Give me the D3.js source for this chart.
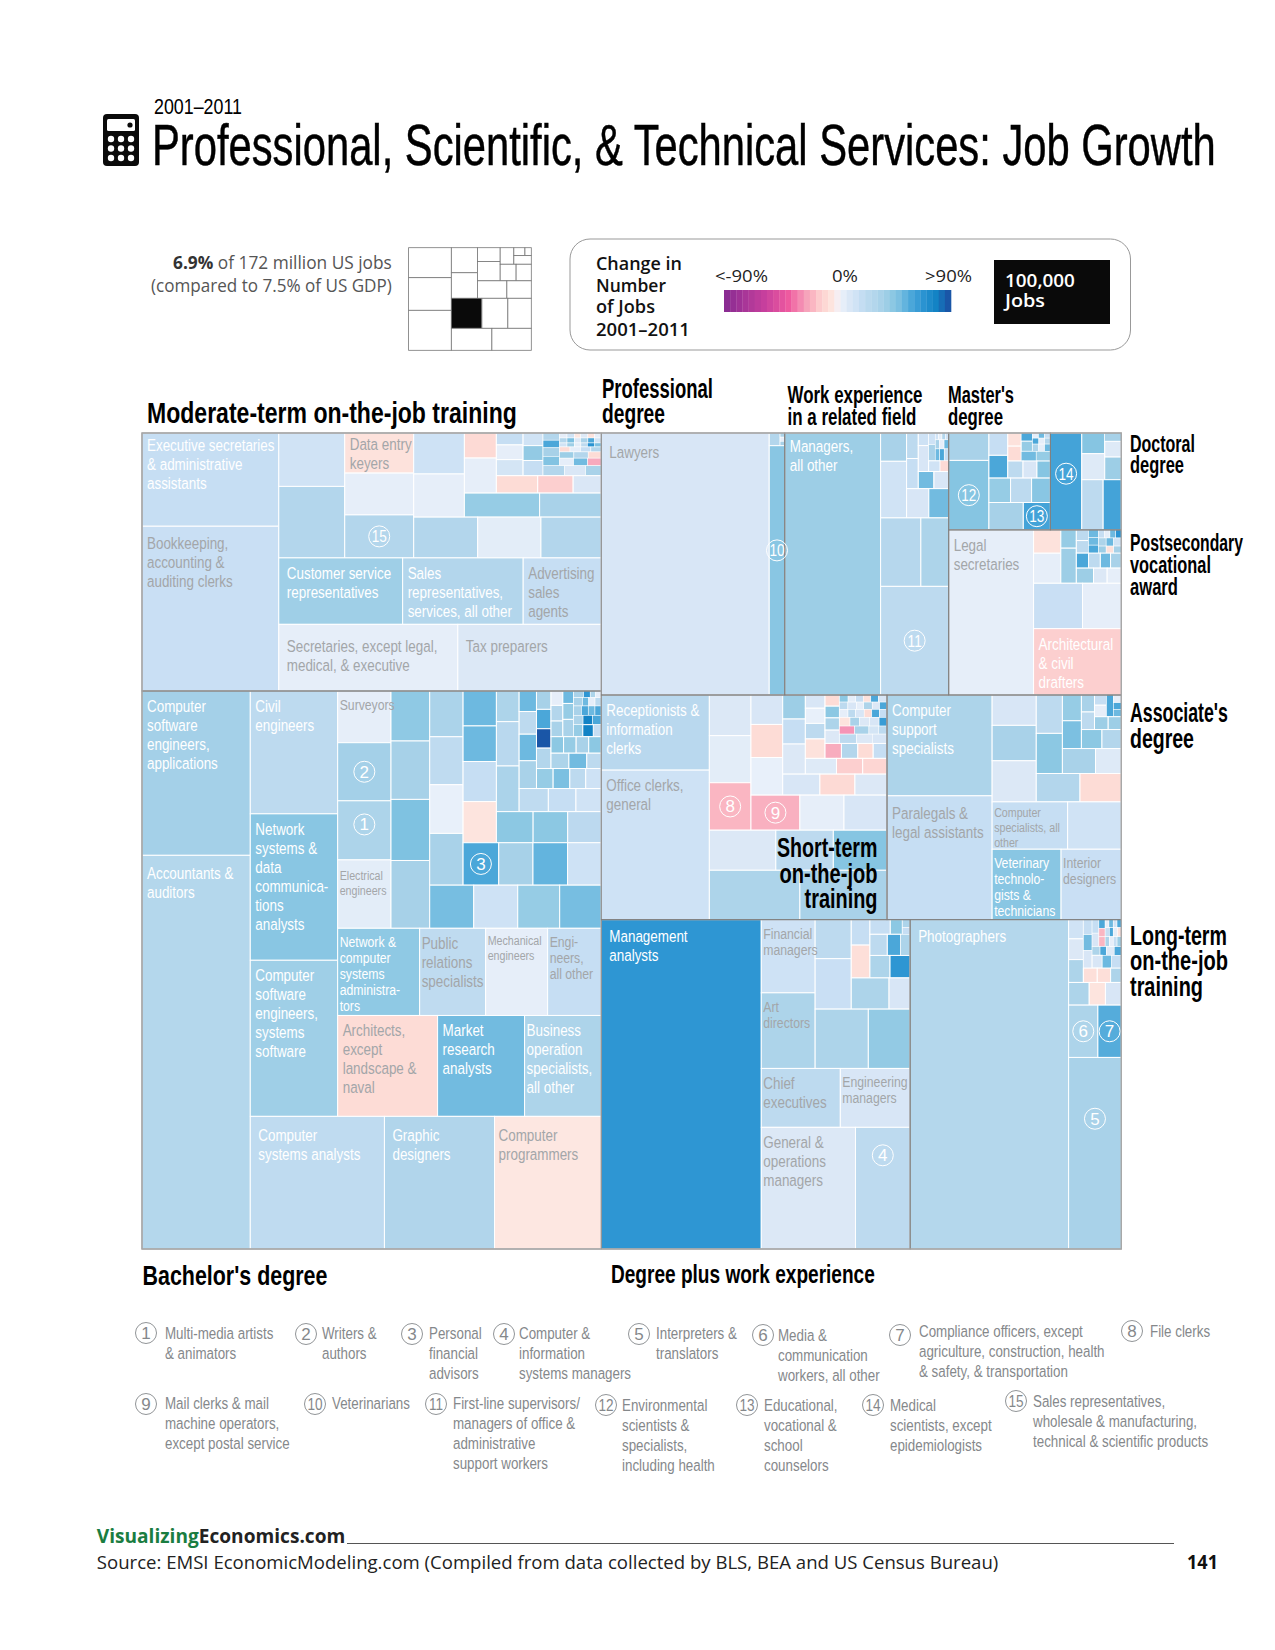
<!DOCTYPE html>
<html>
<head>
<meta charset="utf-8">
<script src="https://cdn.jsdelivr.net/npm/d3@7"></script>
<style>
  body { margin: 0; background: #fff; }
  svg { display: block; }
  text { font-family: "Liberation Sans Narrow", "Liberation Sans", sans-serif; }
  .plain { font-family: "Open Sans", "Liberation Sans", sans-serif; }
</style>
</head>
<body>
<svg id="chart" width="1275" height="1650"></svg>
<script>
// C = cells side by side, R = cells stacked. A leaf is [thousand jobs, % change, label or key number]
const C = (...children) => ({ tile: "dice", children });
const R = (...children) => ({ tile: "slice", children });

const moderateTerm = C(
  R([172, 19, "Executive secretaries\n& administrative\nassistants"], [304, 18, "Bookkeeping,\naccounting &\nauditing clerks"]),
  R(
    C(
      R([47.5, 15], [63.6, 30]),
      R([37.3, -6, "Data entry\nkeyers"], [38.9, 5], [40, 30, 15]),
      R(
        C(
          R([28, 16], [29.5, 5]),
          R(
            C(
              R([10.8, -9], [15.1, 5]),
              R(
                C(
                  R([4.3, 19], [5.3, 5], [5.8, 13]),
                  R([3.4, 15], [4, 43], [4.1, 19]),
                  R(
                    C(
                      R([1.6, 30], [1.7, 60], [1.9, 36], [2.1, 48]),
                      R(
                        C([.5, 5], [.5, 15], [.4, -4], [.5, 8], [.45, -6], [.45, 5]),
                        C([.5, 30], [.5, 50], [.4, 9], [.5, 35], [.45, 60], [.45, 15]),
                        C([.4, 15], [.4, 40], [.35, 6], [.35, 23], [.4, 70], [.35, 50]),
                        C([.7, -8], [.7, 5], [.7, 19], [.7, 30]),
                        C([1.2, 40], [1.2, 30], [1.1, -8]),
                        C([1.45, 5], [1.45, 52], [1.4, -24])
                      )
                    ),
                    C([2.9, 30], [2.8, 10], [2.1, 35])
                  )
                ),
                C([9.7, -8], [8.3, -14], [6.6, 10])
              )
            ),
            C([24.4, 42], [20, 35])
          )
        ),
        C([35.2, 30], [34.8, 6], [33.2, 30])
      )
    ),
    C([111, 39, "Customer service\nrepresentatives"], [108, 30, "Sales\nrepresentatives,\nservices, all other"], [70, 19, "Advertising\nsales\nagents"]),
    C([161, 5, "Secretaries, except legal,\nmedical, &  executive"], [129, 9, "Tax preparers"])
  )
);

const bachelors = C(
  R([240, 37, "Computer\nsoftware\nengineers,\napplications"], [575, 29, "Accountants &\nauditors"]),
  R(
    C(
      R([144.8, 23, "Civil\nengineers"], [172.6, 46, "Network\nsystems &\ndata\ncommunica-\ntions\nanalysts"], [184, 39, "Computer\nsoftware\nengineers,\nsystems\nsoftware"]),
      R(
        C(
          R([37.2, 5, "Surveyors"], [41.8, 37, 2], [42.5, 33, 1], [49.2, 6, "Electrical\nengineers"]),
          C(
            R([26.1, 44], [30.5, 36], [31.9, 49], [35.4, 36]),
            R(
              C(
                R([20.6, 34], [21.6, 22], [21.9, 4], [23.3, 35]),
                R(
                  C(
                    R([15.7, 53], [16, 53], [18, 19], [18.5, -5]),
                    R(
                      C(
                        R([9.4, 33], [13.6, 26], [14, 34]),
                        R(
                          C(
                            R([4.8, 53], [5.3, 23], [6.2, 53], [6.5, 35]),
                            R(
                              C(
                                R([3.6, 36], [3.8, 60], [3.8, 90], [4, 30]),
                                R(
                                  C(
                                    R([2.3, 5], [2.5, 30], [2.5, 35]),
                                    R([1.8, 53], [2.3, 42], [2.5, 35]),
                                    R(
                                      C([.9, 35], [.6, 68], [.5, 33], [.5, 5]),
                                      C([1, 35], [.7, 53], [.7, 5], [.7, 23]),
                                      C([1, 35], [.85, 60], [.85, 53], [.8, 60]),
                                      C([1.2, 33], [1.2, 80], [1.1, 60]),
                                      C([1.5, 42], [1.7, 80], [1.3, 19])
                                    )
                                  ),
                                  C([2.8, 45], [2.8, 42], [2.8, 35], [2.8, 45]),
                                  C([3.7, 33], [3.7, 52], [3, 23])
                                )
                              ),
                              C([4.5, 42], [4.5, 50], [4.3, 23], [4.2, 16])
                            )
                          ),
                          C([9.1, 22], [8.6, 19], [7.9, 15])
                        )
                      ),
                      C([15.4, 45], [14.5, 45], [14.1, 24])
                    )
                  ),
                  C([20.4, 60, 3], [19.6, 36], [19.8, 55], [19.3, 16])
                )
              ),
              C([25.6, 51], [25.6, 16], [24.4, 42], [24.2, 51])
            )
          )
        ),
        C([96.4, 44, "Network &\ncomputer\nsystems\nadministra-\ntors"], [77.6, 22, "Public\nrelations\nspecialists"], [72.9, 5, "Mechanical\nengineers"], [63.1, 19, "Engi-\nneers,\nall other"]),
        C([136, -8, "Architects,\nexcept\nlandscape &\nnaval"], [118.4, 52, "Market\nresearch\nanalysts"], [104.4, 33, "Business\noperation\nspecialists,\nall other"])
      )
    ),
    C([240, 22, "Computer\nsystems analysts"], [197, 31, "Graphic\ndesigners"], [191, -4, "Computer\nprogrammers"])
  )
);

const professional = C(
  [574.6, 11, "Lawyers"],
  R(C([1.8, 30], R([.25, 33], [.25, 5], [.27, 36])), [50.5, 46, 10])
);

const workExperience = C(
  [328, 40, "Managers,\nall other"],
  R(
    C(
      R([9.6, 35], [19.2, 15]),
      R(
        C(
          R([3.9, 23], [4.6, 19]),
          R(
            C(
              R([1.7, 16], [3.5, 11]),
              R(
                C(
                  R([1, 16], [1.4, 35]),
                  R(
                    C([.3, 15], [.3, 5], [.3, 30], [.3, 16]),
                    C([.5, 35], [.55, 5], [.55, 53]),
                    C([.7, 53], [.7, 60], [.7, 19])
                  )
                ),
                C([1.6, 15], [1.2, -9])
              )
            ),
            C([3.5, 52], [3.3, 11])
          )
        ),
        C([8.5, 11], [7.6, 52])
      )
    ),
    C([36, 28], [24.9, 33]),
    [96.6, 23, 11]
  )
);

const masters = C(
  R([14.4, 35], [36.5, 47, 12]),
  R(
    C(
      R([5.5, 19], [5.6, 60]),
      R(
        C(
          R([2.3, -6], [2.6, -8]),
          R(
            C(
              R([1.2, 60], [1.5, 42]),
              R(
                C([.4, 5], [.4, 53], [.4, 19]),
                C([.5, 60], [.45, 5], [.45, 30]),
                C([.6, 33], [.55, 5], [.55, 53])
              )
            ),
            C([1.9, 52], [1.8, 42])
          )
        ),
        C([3.4, 23], [3.1, 11], [3, 47])
      )
    ),
    C([6.9, 42], [6.7, 23], [6, 46]),
    C([12.3, 36], [9.7, 62, 13])
  )
);

const doctoral = C(
  [39.7, 62, 14],
  R(
    C(R([6.2, 47], [7.8, 8]), R([1.8, 36], [3.4, 8], [4.9, 40])),
    C([14, 23], [11.9, 62])
  )
);

const postsecondary = C(
  [183, 5, "Legal\nsecretaries"],
  R(
    C(
      R([8.3, -6], [10.7, 5]),
      R(
        C(
          R([3.7, 42], [7.1, 40]),
          R(
            C(
              R([1.7, 23], [2, 23]),
              R([1, 53], [1, 53], [1.05, 60]),
              R(
                C([.6, 19], [.6, 5], [.6, 53], [.6, 70]),
                C([.8, 33], [.8, 53], [.8, 15]),
                C([.7, 40], [.7, -6], [.7, 36])
              )
            ),
            C([2.4, 60], [2.3, 23], [2, 53], [2.1, 35]),
            C([3.4, 40], [2.7, 9], [2.8, 5])
          )
        )
      )
    ),
    C([29, 18], [23, 5]),
    [76, -14, "Architectural\n& civil\ndrafters"]
  )
);

const shortTerm = C(
  R([106, 26, "Receptionists &\ninformation\nclerks"], [211, 16, "Office clerks,\ngeneral"]),
  R(
    C(
      R([22.1, 9], [25.6, 6], [25.8, -20, 8]),
      R(
        C(
          R([12.2, 11], [13.7, -8], [15.6, 4]),
          R(
            C(
              R([7.1, 40], [7.4, 19], [8.9, 9]),
              R(
                R(
                  C(
                    R([3.4, 11], [3.9, 4], [4, 23], [5, -6]),
                    R(
                      C(
                        R([2.1, -8], [2.2, 45], [2.3, 33], [2.5, 9]),
                        R(
                          C([.8, 45], [.7, 5], [.7, 19], [.7, -6], [.7, 60], [.8, 11]),
                          C([.8, 23], [.8, 11], [.7, 5], [.8, 33], [.7, 9], [.7, 60]),
                          C([.9, 5], [.8, 23], [.9, 11], [.8, -8], [.8, 60], [.8, 19]),
                          C([1.2, -5], [1.1, 35], [1.1, 9], [1.1, 11], [.9, 65]),
                          C([1.6, -28], [1.5, 35], [1, 13], [.9, 23]),
                          C([2.1, 23], [1.9, 9], [1.8, 11])
                        )
                      ),
                      C([3.2, -23], [3.2, 30], [3, -8], [2.7, 19])
                    )
                  )
                ),
                C([6.4, 8], [5.4, -14], [5, -11])
              )
            ),
            C([10.2, 11], [9.6, -9], [8.8, 9])
          )
        ),
        C([22.4, -22, 9], [20.2, 5], [19.7, 11])
      )
    ),
    C([34.8, 9], [30.1, 23], [28.1, 47]),
    C([58.4, 33], [56.2, 35])
  )
);

const associate = C(
  R([138.4, 33, "Computer\nsupport\nspecialists"], [170, 19, "Paralegals &\nlegal assistants"]),
  R(
    C(
      R([17.5, 11], [20.4, 35], [23.7, 9]),
      R(
        C(
          R([13.1, 23], [13.7, 45]),
          R(
            C(
              R([6.4, 42], [6.9, 50]),
              R(
                C(
                  R([2.9, 35], [3, 23]),
                  R(
                    C(
                      R([1.6, 19], [1.8, 5]),
                      C([1.95, 60], R([.8, 5], [.7, 60], [.75, 53]))
                    ),
                    C([2.3, 40], [2.2, 40])
                  )
                ),
                C([5.1, 45], [4.8, 30])
              )
            ),
            C([10.8, 35], [8.4, 8])
          )
        ),
        C([16.2, 30], [15.3, -8])
      )
    ),
    C([46.7, 19, "Computer\nspecialists, all\nother"], [33.2, 15]),
    C([63.4, 46, "Veterinary\ntechnolo-\ngists &\ntechnicians"], [55.4, 18, "Interior\ndesigners"])
  )
);

const degreePlus = C(
  [688, 68, "Management\nanalysts"],
  R(
    C(
      R([51.5, 16, "Financial\nmanagers"], [53.2, 33, "Art\ndirectors"]),
      R(
        C(
          R([18.4, 23], [23.8, 18]),
          R(
            C(
              R([6.2, 19], [8, -7]),
              R(
                C([3.9, 19], [2.3, 45], R([.8, 33], [.7, 19])),
                C([4.8, 23], [3.7, 60], [2.6, 33]),
                C([5.9, 33], [5.9, 68])
              )
            ),
            C([15.4, 33], [8.6, 11])
          )
        ),
        C([41.2, 33], [32.4, 43])
      )
    ),
    C([60.8, 23, "Chief\nexecutives"], [53.7, 11, "Engineering\nmanagers"]),
    C([149.7, 9, "General &\noperations\nmanagers"], [86.9, 23, 4])
  )
);

const longTerm = C(
  [681.6, 29, "Photographers"],
  R(
    C(
      R([3.7, 15], [4, 9], [4.4, 33]),
      R(
        C(
          R([1.7, 19], [1.8, 52], [2, 11]),
          R(
            C(
              R([1.2, 19], [1.2, 11]),
              R([.7, 60], [.7, -20], [.8, -20]),
              R(
                C([.4, 5], [.45, 53], [.4, 15], [.45, 60]),
                C([.5, 19], [.45, 60], [.5, 5], [.45, -6]),
                C([.55, 33], [.5, 5], [.5, 19], [.55, 40])
              )
            ),
            C([.9, 33], [.7, 60], [.9, 8], [.8, 60]),
            C([1.7, 11], [1.6, 53], [1.6, 19])
          )
        ),
        C([2.6, -7], [2.5, -7], [2, 33])
      )
    ),
    C([6.1, 33], [4.8, -5], [4.7, 11]),
    C([20, 33, 6], [16, 58, 7]),
    [131.8, 35, 5]
  )
);

const groups = [moderateTerm, bachelors, professional, workExperience, masters, doctoral,
  postsecondary, shortTerm, associate, degreePlus, longTerm];

// shares of all US jobs, % (small square picture)
const industryShares = C(
  R([10.2], [11.1], [13.6]),
  R(
    C(
      R([5.2], [5.3]),
      R(
        C(
          R([2.5], [3.5]),
          R(
            C(
              [1.8],
              R(C([.7], [.4]), [1.2])
            ),
            C([2.1], [2])
          )
        ),
        C([4.1], [3.4])
      )
    ),
    C([7.3, 1], [6.2], [5.6]),
    C([7.1], [6.9])
  )
);

const legendChanges = d3.range(-90, 91, 5);
const legendTicks = ["<-90%", "0%", ">90%"];

const keyLabels = [
  ["Multi-media artists", "& animators"],
  ["Writers &", "authors"],
  ["Personal", "financial", "advisors"],
  ["Computer &", "information", "systems managers"],
  ["Interpreters &", "translators"],
  ["Media &", "communication", "workers, all other"],
  ["Compliance officers, except", "agriculture, construction, health", "& safety, &  transportation"],
  ["File clerks"],
  ["Mail clerks & mail", "machine operators,", "except postal service"],
  ["Veterinarians"],
  ["First-line supervisors/", "managers of office &", "administrative", "support workers"],
  ["Environmental", "scientists &", "specialists,", "including health"],
  ["Educational,", "vocational &", "school", "counselors"],
  ["Medical", "scientists, except", "epidemiologists"],
  ["Sales representatives,", "wholesale & manufacturing,", "technical & scientific products"]
];

// --- drawing ---
const whiteLabels = ["Executive", "Customer", "Sales", "Computer\nsoftware", "Civil", "Network", "Accountants",
  "Market", "Business", "Computer\nsystems", "Graphic", "Managers", "Architectural", "Receptionists",
  "Computer\nsupport", "Veterinary", "Management", "Photographers"];
const insetLabels = ["Customer", "Secretaries", "Tax", "Lawyers", "Management", "Photographers", "Computer\nsystems", "Graphic", "Computer\nprogrammers"];
const tightLabels = ["Surveyors", "Financial", "Art", "Chief", "General", "Mechanical", "Engi-", "Public", "Business",
  "Network &", "Veterinary", "Interior", "Engineering", "Electrical", "Computer\nspecialists"];
const smallLabels = ["Surveyors", "Network &", "Engi-", "Veterinary", "Interior", "Financial", "Art", "Engineering"];
const tinyLabels = ["Electrical", "Mechanical", "Computer\nspecialists"];
const labelDrop = { "Executive": 18, "Data": 17, "Secretaries": 28, "Tax": 28, "Managers": 19, "Computer\nspecialists": 15,
  "Mechanical": 17, "Electrical": 20, "Customer": 21, "Management": 22, "Photographers": 22, "Bookkeeping": 23,
  "Accountants": 24, "Paralegals": 23 };
const starts = (s, list) => list.some(k => s.startsWith(k));
const greyText = "#a3a6a9", labelSqueeze = 0.79, keySqueeze = 0.81;

const svg = d3.select("#chart");

const changeColor = d3.scaleLinear()
  .domain([-90, -60, -40, -24, -20, -14, -8, -4, 0, 4, 9, 15, 19, 23, 30, 35, 40, 45, 50, 53, 60, 68, 80, 90])
  .range(["#8b2c92", "#c63f9d", "#ee5a9f", "#f7a9bd", "#fab6c2", "#fccfcf", "#fddcd6", "#fde7e1", "#f6eef2", "#e8f0fa",
    "#dce8f6", "#d0e3f5", "#c6def3", "#bddaef", "#b3d6ec", "#a9d2e9", "#9dcee6", "#8cc8e3", "#7cc0e1", "#6db9e0",
    "#4ba7d9", "#2e96d3", "#1383c5", "#1a56a7"])
  .clamp(true);

const splitTile = (node, x0, y0, x1, y1) =>
  (node.data.tile === "slice" ? d3.treemapSlice : d3.treemapDice)(node, x0, y0, x1, y1);

function layout(tree, w, h) {
  const root = d3.hierarchy(tree, d => d.children).sum(d => d.children ? 0 : d[0]);
  return d3.treemap().size([w, h]).tile(splitTile)(root);
}

// scale a text sideways so it takes up the measured width
function squeeze(sel, x, y, width) {
  const full = sel.node().getComputedTextLength();
  return sel.attr("transform", "translate(" + x + "," + y + ") scale(" + width / full + ",1)");
}

function fitText(x, y, str, width, size, weight, cls) {
  const t = svg.append("text").attr("class", cls || null)
    .attr("font-size", size).attr("font-weight", weight || "bold")
    .text(str);
  return squeeze(t, x, y, width);
}

// title block
fitText(154, 114, "2001–2011", 88, 22, "normal");
fitText(152, 165, "Professional, Scientific, & Technical Services: Job Growth", 1064, 58, "normal")
  .attr("stroke", "#000").attr("stroke-width", 0.5);

const icon = svg.append("g").attr("transform", "translate(103,114)");
icon.append("rect").attr("width", 36).attr("height", 52).attr("rx", 4).attr("fill", "#0a0a0a");
icon.append("rect").attr("x", 4).attr("y", 5).attr("width", 28).attr("height", 12).attr("rx", 1.5).attr("fill", "#fff");
icon.append("circle").attr("cx", 27).attr("cy", 11).attr("r", 2.6).attr("fill", "#0a0a0a");
icon.selectAll("circle.key").data(d3.range(9)).enter().append("circle").attr("class", "key")
  .attr("cx", i => 8 + (i % 3) * 10).attr("cy", i => 25 + Math.floor(i / 3) * 9.5).attr("r", 3.2).attr("fill", "#fff");

// share of jobs
const shareLine = svg.append("text").attr("class", "plain").attr("font-size", 17.5).attr("fill", "#555");
shareLine.append("tspan").attr("font-weight", "bold").attr("fill", "#333").text("6.9%");
shareLine.append("tspan").text(" of 172 million US jobs");
squeeze(shareLine, 173, 269, 219);
fitText(151, 292, "(compared to 7.5% of US GDP)", 241, 17.5, "normal", "plain").attr("fill", "#555");

const mini = svg.append("g").attr("transform", "translate(408.6,247.7)");
mini.selectAll("rect").data(layout(industryShares, 122.7, 102.6).leaves()).enter().append("rect")
  .attr("x", d => d.x0).attr("y", d => d.y0)
  .attr("width", d => d.x1 - d.x0).attr("height", d => d.y1 - d.y0)
  .attr("fill", d => d.data[1] ? "#0a0a0a" : "#fff")
  .attr("stroke", "#777").attr("stroke-width", 0.8);

// legend box
svg.append("rect").attr("x", 570).attr("y", 239).attr("width", 560.5).attr("height", 111).attr("rx", 20)
  .attr("fill", "#fff").attr("stroke", "#999").attr("stroke-width", 1);
[["Change in", 270, 86], ["Number", 292, 70], ["of Jobs", 313, 59], ["2001–2011", 336, 94]]
  .forEach(d => fitText(596, d[1], d[0], d[2], 18.5, 600, "plain").attr("fill", "#111"));

const legendX = d3.scaleBand().domain(legendChanges).range([724, 951]);
svg.selectAll("rect.stripe").data(legendChanges).enter().append("rect").attr("class", "stripe")
  .attr("x", d => legendX(d)).attr("y", 290)
  .attr("width", legendX.bandwidth() + 0.3).attr("height", 22)
  .attr("fill", d => changeColor(d));
legendTicks.forEach((t, i) => {
  fitText([715, 832, 925][i], 282, t, [53, 26, 47][i], 17, "normal", "plain").attr("fill", "#222");
});
svg.append("rect").attr("x", 994).attr("y", 260).attr("width", 116).attr("height", 64).attr("fill", "#0a0a0a");
fitText(1005, 287, "100,000", 70, 18, 600, "plain").attr("fill", "#fff");
fitText(1005, 307, "Jobs", 40, 18, 600, "plain").attr("fill", "#fff");

// treemap, one block of groups on the left and one on the right
function drawBlock(tree, x, y, w, h) {
  const root = layout(tree, w, h);
  const map = svg.append("g").attr("transform", "translate(" + x + "," + y + ")");

  const cell = map.selectAll("g.cell").data(root.leaves()).enter().append("g").attr("class", "cell")
    .attr("transform", d => "translate(" + d.x0 + "," + d.y0 + ")");
  cell.append("rect")
    .attr("width", d => d.x1 - d.x0).attr("height", d => d.y1 - d.y0)
    .attr("fill", d => changeColor(d.data[1]))
    .attr("stroke", "#fff")
    .attr("stroke-width", d => Math.min(d.x1 - d.x0, d.y1 - d.y0) > 10 ? 1 : 0.5);

  // group outlines
  map.selectAll("rect.group").data(root.descendants().filter(d => groups.includes(d.data))).enter()
    .append("rect").attr("class", "group")
    .attr("x", d => d.x0).attr("y", d => d.y0)
    .attr("width", d => d.x1 - d.x0).attr("height", d => d.y1 - d.y0)
    .attr("fill", "none").attr("stroke", "#808080").attr("stroke-width", 1);

  // labels go over every cell, a few run past their edge
  root.leaves().filter(d => typeof d.data[2] === "string").forEach(d => {
    const s = d.data[2];
    const tiny = starts(s, tinyLabels), small = !tiny && starts(s, smallLabels);
    const size = tiny ? 13.5 : small ? 15.5 : 17, step = tiny ? 15 : small ? 16 : 19;
    const inset = starts(s, insetLabels);
    const dx = s.startsWith("Computer\nprogrammers") ? 4 : inset ? 8 : starts(s, tightLabels) ? 2 : 5;
    const drop = Object.keys(labelDrop).find(k => s.startsWith(k));
    const dy = drop ? labelDrop[drop] : inset ? 25 : small ? 19 : 21;
    s.split("\n").forEach((line, i) => {
      map.append("text")
        .attr("transform", "translate(" + (d.x0 + dx) + "," + (d.y0 + dy + i * step) + ") scale(" + labelSqueeze + ",1)")
        .attr("font-size", size)
        .attr("fill", starts(s, whiteLabels) ? "#fff" : greyText)
        .text(line);
    });
  });

  // key numbers inside cells
  const keyRaise = { 1: .4, 4: .23, 5: .32, 10: .42, 14: .42 };
  const keyMark = map.selectAll("g.mark").data(root.leaves().filter(d => typeof d.data[2] === "number")).enter()
    .append("g").attr("class", "mark")
    .attr("transform", d => "translate(" + (d.x0 + d.x1) / 2 + "," + (d.y0 + (d.y1 - d.y0) * (keyRaise[d.data[2]] || .5)) + ")");
  keyMark.append("circle").attr("r", 10.5).attr("fill", "none").attr("stroke", "#fff").attr("stroke-width", 1);
  keyMark.append("text").attr("transform", d => "translate(0,6) scale(" + (d.data[2] > 9 ? .8 : 1) + ",1)")
    .attr("text-anchor", "middle").attr("font-size", 17).attr("fill", "#fff").text(d => d.data[2]);
}

drawBlock(R(moderateTerm, bachelors), 142, 433, 459.3, 816);
drawBlock(R(
  C(professional, workExperience, R(C(masters, doctoral), postsecondary)),
  C(shortTerm, associate),
  C(degreePlus, longTerm)
), 601.3, 433, 520, 816);
svg.append("rect").attr("x", 142).attr("y", 433).attr("width", 979.3).attr("height", 816)
  .attr("fill", "none").attr("stroke", "#aaa").attr("stroke-width", 1.2);

// group titles: text, x, baseline, width, size
[
  ["Moderate-term on-the-job training", 147, 423, 370, 30],
  ["Professional", 602, 398, 111, 28], ["degree", 602, 423, 63, 28],
  ["Work  experience", 787.5, 403, 135, 24], ["in a related field", 787.5, 425, 129, 24],
  ["Master's", 948, 403, 66, 24], ["degree", 948, 425, 55, 24],
  ["Doctoral", 1130, 452, 65, 24], ["degree", 1130, 473, 54, 24],
  ["Postsecondary", 1130, 551, 113, 24], ["vocational", 1130, 573, 81, 24], ["award", 1130, 595, 48, 24],
  ["Associate's", 1130, 722, 98, 28], ["degree", 1130, 748, 64, 28],
  ["Long-term", 1130, 945, 97, 28], ["on-the-job", 1130, 970, 98, 28], ["training", 1130, 996, 73, 28],
  ["Short-term", 777, 857, 100.5, 27], ["on-the-job", 779.5, 883, 98, 27], ["training", 804.5, 908, 73, 27],
  ["Bachelor's degree", 142.5, 1285, 185, 28],
  ["Degree plus work experience", 611, 1283, 264, 25]
].forEach(d => fitText(d[1], d[2], d[0], d[3], d[4], "bold").attr("fill", "#000"));

// numbered key below the chart: circle x, circle y, text x, first baseline
const keySpots = [
  [146, 1333, 165, 1339], [306, 1334, 322, 1339], [412, 1334, 429, 1339], [504, 1334, 519, 1339], [639, 1334, 656, 1339],
  [763, 1335, 778, 1341], [900, 1335, 919, 1337], [1132, 1331, 1150, 1337], [146, 1404, 165, 1409], [315, 1404, 332, 1409],
  [436, 1404, 453, 1409], [606, 1405, 622, 1411], [747, 1405, 764, 1411], [873, 1405, 890, 1411], [1016, 1401, 1033, 1407]
];
const key = svg.selectAll("g.key").data(keyLabels).enter().append("g").attr("class", "key").attr("fill", "#85888b");
key.append("circle").attr("cx", (d, i) => keySpots[i][0]).attr("cy", (d, i) => keySpots[i][1]).attr("r", 10.5)
  .attr("fill", "none").attr("stroke", "#85888b").attr("stroke-width", 0.9);
key.append("text")
  .attr("transform", (d, i) => "translate(" + keySpots[i][0] + "," + (keySpots[i][1] + 6) + ") scale(" + (i > 8 ? .8 : 1) + ",1)")
  .attr("text-anchor", "middle").attr("font-size", 17).text((d, i) => i + 1);
key.each(function (lines, i) {
  lines.forEach((line, j) => {
    d3.select(this).append("text")
      .attr("transform", "translate(" + keySpots[i][2] + "," + (keySpots[i][3] + j * 20) + ") scale(" + keySqueeze + ",1)")
      .attr("font-size", 16.5).text(line);
  });
});

// footer
const brand = svg.append("text").attr("font-size", 19).attr("font-weight", "bold").attr("class", "plain");
brand.append("tspan").attr("fill", "#1a7d41").text("Visualizing");
brand.append("tspan").attr("fill", "#222").text("Economics.com");
squeeze(brand, 96.8, 1543, 248.5);
svg.append("line").attr("x1", 347).attr("x2", 1174).attr("y1", 1543.5).attr("y2", 1543.5).attr("stroke", "#555").attr("stroke-width", 1);
fitText(96.8, 1569, "Source: EMSI EconomicModeling.com (Compiled from data collected by BLS, BEA and US Census Bureau)", 902, 19, "normal", "plain")
  .attr("fill", "#222");
fitText(1187, 1569, "141", 31, 19, "bold", "plain").attr("fill", "#111");
</script>
</body>
</html>
